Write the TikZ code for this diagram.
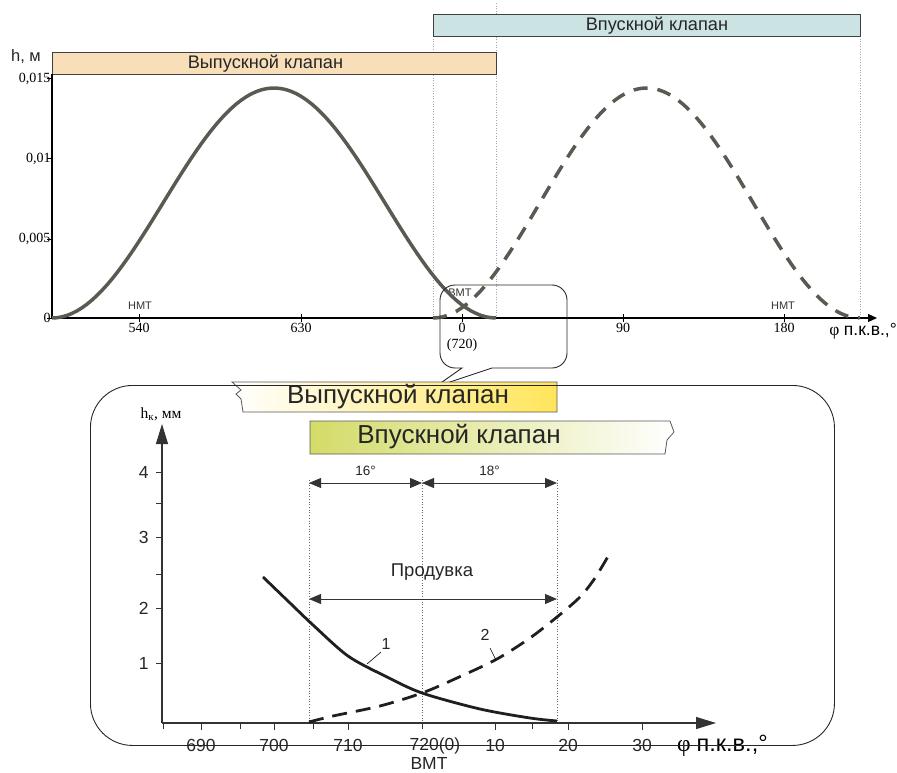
\documentclass[tikz,border=0pt]{standalone}
\usepackage{fontspec}
\setmainfont{Liberation Serif}
\setsansfont{Liberation Sans}
\usepackage{xcolor}
\definecolor{exhaustFill}{HTML}{F8DFBA}
\definecolor{intakeFill}{HTML}{CCE3E3}
\definecolor{liftGray}{HTML}{5A5A52}
\definecolor{zoomYellow}{HTML}{FFE55A}
\definecolor{zoomGreen}{HTML}{D3DB68}
\usepackage{tikz}
\usetikzlibrary{
  arrows.meta,
  positioning,
  calc
}
\newcommand\fsz[1]{\fontsize{#1}{#1}\selectfont}
\tikzset{
  valvebar/.style={
    rectangle,draw=black!75,line width=0.9pt,
    inner sep=0pt,anchor=north west,
    font=\sffamily\fsz{18.2},text=black!85
  },
  lowbar/.style={draw=black!65,line width=0.8pt},
  lowbarlabel/.style={font=\sffamily\fsz{26},text=black!85,inner sep=0pt},
  axisline/.style={line width=1.2pt,color=black},
  axislow/.style={line width=1.2pt,color=black!80,
    -{Triangle[length=20pt,width=12pt]}},
  liftcurve/.style={color=liftGray,line width=3.5pt},
  intakecurve/.style={liftcurve,dash pattern=on 14pt off 10pt},
  curveone/.style={color=black!88,line width=2.8pt},
  curvetwo/.style={curveone,dash pattern=on 15pt off 9pt},
  guide/.style={dotted,color=black!35,line width=0.6pt},
  guidelow/.style={dotted,color=black!60,line width=0.7pt},
  dimarr/.style={{Triangle[length=12pt,width=10pt]}-{Triangle[length=12pt,width=10pt]},
    line width=0.8pt,color=black!80},
  seriflab/.style={font=\rmfamily\fsz{14},inner sep=1pt},
  tdclab/.style={font=\sffamily\fsz{11},text=black!80,inner sep=0pt},
  sanslab/.style={font=\sffamily\fsz{17.5},text=black!85,inner sep=0pt},
  callout/.style={line width=0.9pt,color=black!85},
  panel/.style={rectangle,draw=black!85,line width=0.9pt,rounded corners=42pt,
    inner sep=0pt,anchor=north west}
}

\begin{document}
\begin{tikzpicture}[x=1pt,y=-1pt]
\useasboundingbox (0,0) rectangle (897,773);

%% ── Upper chart: guides and valve bars ───────────────────
\draw[guide] (433,36) -- (433,318);
\draw[guide] (496,3) -- (496,318);
\draw[guide] (860,36) -- (860,318);

\node[valvebar,fill=exhaustFill,minimum width=444pt,minimum height=22pt]
  (exhaust) at (52,52) {\hspace{-18pt}Выпускной клапан};
\node[valvebar,fill=intakeFill,minimum width=427pt,minimum height=22pt]
  (intake) at (433,14) {\hspace{20pt}Впускной клапан};

%% ── Upper chart: axes ────────────────────────────────────
\coordinate (O1) at (52,318);
\coordinate (Y1) at (52,74);
\coordinate (X1) at (877,318);
\draw[axisline,-{Triangle[length=9pt,width=8pt]}] (O1) -- (X1);
\draw[axisline] (O1) -- (Y1);

\node[font=\sffamily\fsz{16.5},text=black!85] (hlab) at (26,57) {h, м};

\foreach \y/\lab in {318/0,239/{0,005},159/{0,01},79/{0,015}}
  \draw[line width=1pt] (47,\y) -- (52,\y)
    node[seriflab,left] (ty\y) {\lab};

\foreach \x/\lab in {139/540,301/630,462/0,623/90,784/180}
  \draw[line width=1pt] (\x,314) -- (\x,322)
    node[seriflab,below] (tx\lab) {\lab};
\node[seriflab] (t720) at (462,345) {(720)};

\node[tdclab] (bdc1) at (140,306) {НМТ};
\node[tdclab] (tdc1) at (460,293) {ВМТ};
\node[tdclab] (bdc2) at (783,306) {НМТ};

\node[anchor=east,inner sep=0pt,font=\rmfamily\fsz{17.5}] (phi1) at (897,331)
  {φ {\sffamily п.к.в.,°}};

%% ── Upper chart: lift curves ─────────────────────────────
\draw[liftcurve] plot[domain=0:1,samples=90,variable=\t]
  ({52+444*\t},{318-115*(1-cos(360*\t))});
\draw[intakecurve] plot[domain=0:1,samples=90,variable=\t]
  ({433+427*\t},{318-115*(1-cos(360*\t))});

%% ── Callout ──────────────────────────────────────────────
\coordinate (ztip) at (435,387);
\draw[callout] (520,368) [rounded corners=15pt] -- (567,368) -- (567,285)
  -- (440,285) -- (440,368) [sharp corners] -- (462,368) -- (ztip)
  -- (492,368) -- cycle;

%% ── Lower panel: valve bars ──────────────────────────────
\shade[lowbar,left color=white,right color=zoomYellow]
  (557,382) -- (232,382) -- (241,390) -- (236,394) -- (241,399)
  -- (243,412) -- (557,412) -- cycle;
\node[lowbarlabel] (exhaustlow) at (398,397) {Выпускной клапан};

\shade[lowbar,left color=zoomGreen,right color=white]
  (310,421) -- (670,421) -- (674,432) -- (667,440) -- (665,454)
  -- (310,454) -- cycle;
\node[lowbarlabel] (intakelow) at (459,437) {Впускной клапан};

%% ── Lower panel: axes ────────────────────────────────────
\coordinate (O2) at (162,723);
\coordinate (X2) at (716,723);
\coordinate (Y2) at (162,424);
\draw[axislow] (O2) -- (X2);
\draw[axislow] (O2) -- (Y2);

\node[font=\rmfamily\fsz{15.5}] (hk) at (161,414) {h\textsubscript{к}, мм};

\foreach \y/\lab in {663/1,608/2,537/3,472/4}
  \draw[line width=0.9pt,black!80] (156,\y) -- (162,\y)
    node[sanslab,left=13pt] (ly\lab) {\lab};
\foreach \y in {574,503}
  \draw[line width=0.9pt,black!80] (156,\y) -- (162,\y);

\foreach \x/\lab in {201/690,274/700,348/710,495/10,568/20,642/30}
  \draw[line width=0.9pt,black!80] (\x,723) -- (\x,730)
    node[sanslab,below=9pt] (lx\lab) {\lab};
\foreach \x in {163,240,313,422,532}
  \draw[line width=0.9pt,black!80] (\x,723) -- (\x,729);
\node[sanslab] (lx720) at (435,746) {720(0)};
\node[sanslab] (tdc2) at (429,763) {ВМТ};

\node[anchor=west,inner sep=0pt,font=\rmfamily\fsz{23.5}] (phi2) at (677,746)
  {φ {\sffamily п.к.в.,°}};

%% ── Lower panel: guides and spans ────────────────────────
\coordinate (g705) at (309,480);
\coordinate (g720) at (422,480);
\coordinate (g18) at (557,480);
\draw[guidelow] (g705) -- (309,723);
\draw[guidelow] (g720) -- (422,723);
\draw[guidelow] (g18) -- (557,723);

\draw[dimarr] ($(g705)+(0,3)$) -- ($(g720)+(0,3)$)
  node[midway,above=4pt,font=\sffamily\fsz{13.5},text=black!85] (d16) {16°};
\draw[dimarr] ($(g720)+(0,3)$) -- ($(g18)+(0,3)$)
  node[midway,above=4pt,font=\sffamily\fsz{13.5},text=black!85] (d18) {18°};
\draw[dimarr] (309,599) -- (557,599);
\node[sanslab,font=\sffamily\fsz{18.5}] (blow) at (432,572) {Продувка};

%% ── Lower panel: lift curves ─────────────────────────────
\draw[curveone] plot[smooth] coordinates {(263,577) (290,603) (313,625)
  (348,656) (385,676) (422,693) (480,709) (530,718) (557,721)};
\draw[curvetwo] plot[smooth] coordinates {(309,722) (333,716) (380,706)
  (422,693) (457,678) (497,659) (530,638) (557,617) (580,597) (595,578)
  (610,553)};

\node[font=\sffamily\fsz{16},text=black!85] (c1) at (386,644) {1};
\draw[line width=0.6pt] (381,652) -- (367,664);
\node[font=\sffamily\fsz{16},text=black!85] (c2) at (485,635) {2};
\draw[line width=0.6pt] (490,648) -- (496,660);

%% ── Lower panel frame ────────────────────────────────────
\node[panel,minimum width=744pt,minimum height=360pt] (frame) at (90,385) {};

\end{tikzpicture}
\end{document}
